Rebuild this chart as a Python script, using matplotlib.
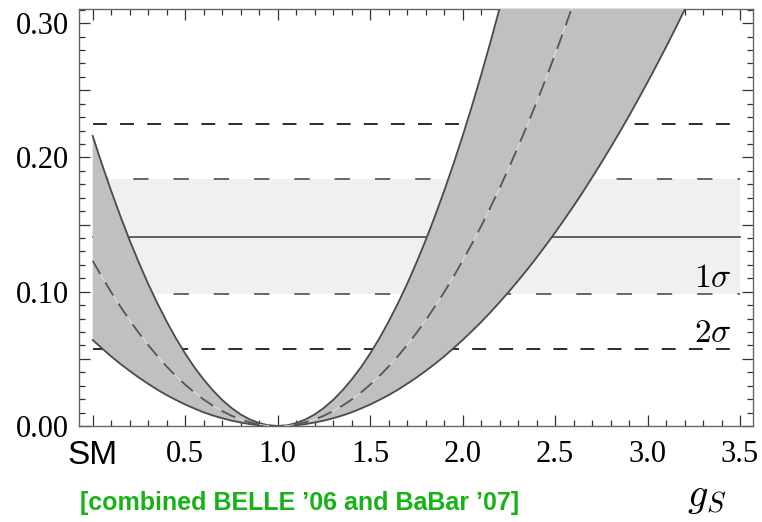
import numpy as np
import matplotlib
matplotlib.use('Agg')
import matplotlib.pyplot as plt
from matplotlib.ticker import MultipleLocator, FuncFormatter

plt.rcParams['mathtext.fontset'] = 'cm'
plt.rcParams['lines.scale_dashes'] = False

half = [0.2160, 0.1949, 0.1750, 0.1561, 0.1382, 0.1215, 0.1058, 0.0913, 0.0778, 0.0653,
        0.0540, 0.0437, 0.0346, 0.0265, 0.0194, 0.0135, 0.0086, 0.0049, 0.0022, 0.0005]
g_upper = np.round(np.arange(0, 2.301, 0.05), 2)
r_upper = half + [0.0] + half[::-1] + [0.2381, 0.2614, 0.2857, 0.3110, 0.3375, 0.3650]

half = [0.1230, 0.1110, 0.0996, 0.0889, 0.0787, 0.0692, 0.0603, 0.0520, 0.0443, 0.0372,
        0.0308, 0.0249, 0.0197, 0.0151, 0.0111, 0.0077, 0.0049, 0.0028, 0.0012, 0.0003]
g_mid = np.round(np.arange(0, 2.701, 0.05), 2)
r_mid = half + [0.0] + half[::-1] + [0.1356, 0.1488, 0.1627, 0.1771, 0.1922, 0.2079, 0.2242,
                                     0.2411, 0.2586, 0.2768, 0.2955, 0.3149, 0.3349, 0.3555]

half = [0.0640, 0.0578, 0.0518, 0.0462, 0.0410, 0.0360, 0.0314, 0.0270, 0.0230, 0.0194,
        0.0160, 0.0130, 0.0102, 0.0078, 0.0058, 0.0040, 0.0026, 0.0014, 0.0006, 0.0002]
g_lower = np.round(np.arange(0, 3.301, 0.05), 2)
r_lower = half + [0.0] + half[::-1] + [0.0706, 0.0774, 0.0846, 0.0922, 0.1000, 0.1082, 0.1166,
                                       0.1254, 0.1346, 0.1440, 0.1538, 0.1638, 0.1742, 0.1850,
                                       0.1960, 0.2074, 0.2190, 0.2310, 0.2434, 0.2560, 0.2690,
                                       0.2822, 0.2958, 0.3098, 0.3240, 0.3386]

exp_central = 0.141
exp_1sigma = [0.098, 0.184]
exp_2sigma = [0.057, 0.225]
g_range = [0.0, 3.5]

xticks = [0.0, 0.5, 1.0, 1.5, 2.0, 2.5, 3.0, 3.5]
xticklabels = ['SM', '0.5', '1.0', '1.5', '2.0', '2.5', '3.0', '3.5']

fig = plt.figure(figsize=(7.62, 5.22), dpi=100)
ax = fig.add_axes([0.1037, 0.1839, 0.8845, 0.7989])

# experimental band
ax.fill_between(g_range, exp_1sigma[0], exp_1sigma[1], color='#f0f0f0', lw=0, zorder=1)
ax.plot(g_range, [exp_central] * 2, color='#555555', lw=1.3, zorder=2)
for v in exp_1sigma:
    ax.plot(g_range, [v] * 2, color='#5a5a5a', lw=1.3, dashes=(11, 18), zorder=2)
for v in exp_2sigma:
    ax.plot(g_range, [v] * 2, color='#1a1a1a', lw=1.3, dashes=(10, 9.5), zorder=2)

# theory band
px = list(g_upper) + list(g_lower[::-1])
py = list(r_upper) + list(r_lower[::-1])
ax.fill(px, py, color='#c0c0c0', lw=0, zorder=3)
ax.plot(g_upper, r_upper, color='#4a4a4a', lw=1.3, zorder=4)
ax.plot(g_lower, r_lower, color='#4a4a4a', lw=1.3, zorder=4)
ax.plot(g_mid, r_mid, color='#e6e6e6', lw=0.6, zorder=4)
ax.plot(g_mid, r_mid, color='#555555', lw=1.3, dashes=(11, 7), zorder=5)

ax.text(3.455, 0.1035, r'$1\sigma$', fontsize=24, ha='right', va='baseline', zorder=6)
ax.text(3.455, 0.0625, r'$2\sigma$', fontsize=24, ha='right', va='baseline', zorder=6)

ax.set_xlim(-0.074, 3.57)
ax.set_ylim(0, 0.3105)

ax.xaxis.set_minor_locator(MultipleLocator(0.1))
ax.set_xticks(xticks)
ax.set_xticklabels(xticklabels)
ax.yaxis.set_major_locator(MultipleLocator(0.05))
ax.yaxis.set_minor_locator(MultipleLocator(0.01))
ax.yaxis.set_major_formatter(FuncFormatter(
    lambda v, p: '%.2f' % v if abs(round(v * 10) - v * 10) < 1e-6 else ''))

ax.tick_params(which='both', direction='in', top=True, right=True, colors='#333333', width=0.9)
ax.tick_params(which='major', length=8)
ax.tick_params(which='minor', length=4.5)
ax.tick_params(axis='x', pad=10)
ax.tick_params(axis='y', pad=7)
for lab in ax.get_xticklabels() + ax.get_yticklabels():
    lab.set_fontfamily('Liberation Serif')
    lab.set_fontsize(22)
    lab.set_color('black')
sm = ax.get_xticklabels()[0]
sm.set_fontfamily('Liberation Sans')
sm.set_fontsize(24)

for s in ax.spines.values():
    s.set_color('#666666')
    s.set_linewidth(1.0)

fig.text(0.928, 0.03, r'$g_S$', fontsize=29, ha='center', va='baseline')
fig.text(0.105, 0.023, '[combined BELLE \u201906 and BaBar \u201907]', color='#18b218',
         fontsize=18, fontweight='bold', family='Liberation Sans', ha='left', va='baseline')

fig.savefig('out.png', dpi=100)
